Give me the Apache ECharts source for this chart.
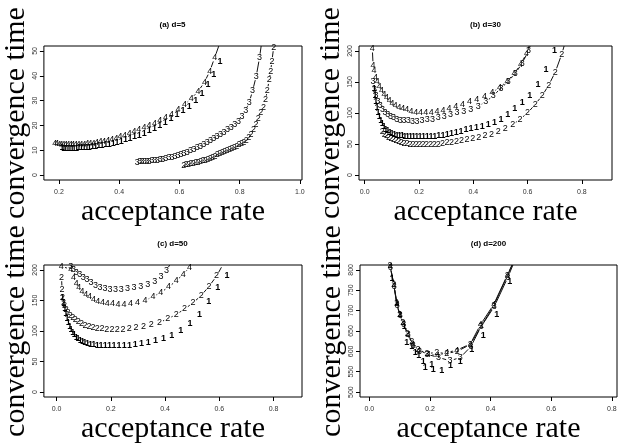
<!DOCTYPE html>
<html>
<head>
<meta charset="utf-8">
<script src="https://cdn.jsdelivr.net/npm/echarts@6/dist/echarts.min.js"></script>
<style>
  html, body { margin: 0; padding: 0; background: #fff; }
  #chart { width: 621px; height: 446px; }
</style>
</head>
<body>
<div id="chart"></div>
<script>
// Convergence time against acceptance rate for four samplers (plotted as digits 1-4)

// ---- tick values ----
const ticksA_x = [0.2, 0.4, 0.6, 0.8, 1.0];
const ticksA_y = [0, 10, 20, 30, 40, 50];
const ticksB_x = [0.0, 0.2, 0.4, 0.6, 0.8];
const ticksB_y = [0, 50, 100, 150, 200];
const ticksC_x = [0.0, 0.2, 0.4, 0.6, 0.8];
const ticksC_y = [0, 50, 100, 150, 200];
const ticksD_x = [0.0, 0.2, 0.4, 0.6, 0.8];
const ticksD_y = [500, 550, 600, 650, 700, 750, 800];

const panelTitles = ['(a) d=5', '(b) d=30', '(c) d=50', '(d) d=200'];

// ---- (a) d=5 : [acceptance rate, convergence time] ----
const a1 = [[0.210,10.9],[0.216,10.8],[0.222,10.7],[0.229,10.7],[0.236,10.7],[0.243,10.7],[0.250,10.8],[0.258,10.8],[0.266,10.9],[0.274,11.0],[0.283,11.0],[0.292,11.1],[0.301,11.2],[0.311,11.3],[0.321,11.5],[0.332,11.7],[0.343,11.9],[0.355,12.2],[0.367,12.5],[0.380,12.9],[0.393,13.3],[0.407,13.7],[0.421,14.2],[0.436,14.8],[0.451,15.4],[0.467,16.1],[0.483,16.9],[0.500,17.8],[0.517,18.8],[0.535,19.9],[0.553,21.2],[0.572,22.7],[0.592,24.3],[0.612,25.8],[0.633,27.7],[0.654,29.9],[0.675,32.8],[0.695,36.5],[0.714,40.6],[0.735,45.9],[0.757,53.5]];
const a2 = [[0.614,3.9],[0.622,4.1],[0.630,4.3],[0.638,4.5],[0.646,4.7],[0.654,4.9],[0.662,5.1],[0.670,5.4],[0.678,5.7],[0.686,6.0],[0.694,6.3],[0.702,6.7],[0.710,7.1],[0.718,7.6],[0.726,8.1],[0.734,8.6],[0.742,9.0],[0.750,9.5],[0.758,9.9],[0.766,10.4],[0.774,10.8],[0.782,11.2],[0.790,11.6],[0.798,12.1],[0.806,12.7],[0.814,13.3],[0.822,14.0],[0.830,15.0],[0.838,16.4],[0.846,18.2],[0.854,20.3],[0.862,22.9],[0.870,25.0],[0.879,27.2],[0.886,30.4],[0.892,34.2],[0.898,38.3],[0.903,41.9],[0.907,45.9],[0.913,51.5],[0.918,57.0]];
const a3 = [[0.460,5.2],[0.468,5.3],[0.476,5.3],[0.484,5.4],[0.492,5.5],[0.500,5.6],[0.509,5.7],[0.518,5.9],[0.527,6.0],[0.536,6.2],[0.545,6.4],[0.555,6.6],[0.565,6.9],[0.575,7.2],[0.585,7.5],[0.595,7.9],[0.605,8.3],[0.615,8.7],[0.626,9.2],[0.637,9.7],[0.648,10.3],[0.659,10.9],[0.670,11.6],[0.681,12.4],[0.692,13.2],[0.703,14.0],[0.714,14.8],[0.725,15.6],[0.736,16.4],[0.748,17.3],[0.760,18.2],[0.772,19.2],[0.784,20.3],[0.796,21.7],[0.808,23.6],[0.820,26.0],[0.832,29.4],[0.843,34.0],[0.855,39.8],[0.866,47.3],[0.876,56.0]];
const a4 = [[0.186,12.8],[0.193,12.6],[0.200,12.5],[0.207,12.4],[0.214,12.4],[0.222,12.3],[0.230,12.3],[0.238,12.3],[0.246,12.3],[0.255,12.3],[0.264,12.4],[0.273,12.4],[0.283,12.5],[0.293,12.6],[0.303,12.7],[0.314,12.9],[0.325,13.1],[0.337,13.4],[0.349,13.7],[0.362,14.0],[0.375,14.4],[0.389,14.9],[0.403,15.4],[0.418,15.9],[0.433,16.6],[0.449,17.4],[0.465,18.2],[0.482,19.0],[0.499,19.9],[0.517,20.9],[0.535,21.9],[0.554,23.0],[0.574,24.5],[0.595,26.6],[0.617,28.4],[0.639,30.8],[0.662,33.7],[0.683,37.4],[0.701,41.9],[0.717,47.3],[0.735,53.5],[0.752,61.0]];

// ---- (b) d=30 ----
const b1 = [[0.035,140],[0.038,128],[0.041,118],[0.045,109],[0.049,101],[0.054,94],[0.059,88],[0.065,83],[0.071,78],[0.078,74],[0.085,71],[0.093,69],[0.101,67],[0.110,65.5],[0.119,64.5],[0.128,63.5],[0.138,63],[0.148,62.5],[0.158,62],[0.169,61.5],[0.180,61.5],[0.192,61.5],[0.204,61.5],[0.217,61.5],[0.230,62],[0.244,62],[0.258,62.5],[0.273,63.5],[0.288,64.5],[0.304,65.5],[0.320,67],[0.337,68.5],[0.355,70.5],[0.373,73],[0.392,75.5],[0.412,77],[0.433,79],[0.455,81],[0.478,85],[0.502,90],[0.527,98],[0.553,107],[0.580,117],[0.608,128],[0.638,146],[0.668,170],[0.699,200]];
const b2 = [[0.065,70],[0.072,66],[0.080,63],[0.088,60.5],[0.097,58.5],[0.106,56.5],[0.115,55],[0.125,53.5],[0.135,52.5],[0.145,51.5],[0.156,50.5],[0.167,50],[0.178,49.5],[0.190,49],[0.202,48.5],[0.215,48.5],[0.228,48.5],[0.242,49],[0.256,49.5],[0.271,50],[0.287,51],[0.303,52],[0.320,53],[0.338,54.5],[0.357,56],[0.377,57.5],[0.398,59],[0.420,61],[0.443,63],[0.467,66],[0.492,70],[0.518,75],[0.545,81],[0.572,90],[0.600,100],[0.628,114],[0.654,128],[0.678,145],[0.702,166],[0.726,195],[0.748,228]];
const b3 = [[0.031,150],[0.036,138],[0.042,128],[0.049,119],[0.057,112],[0.066,106],[0.075,101],[0.085,97],[0.095,94],[0.106,92],[0.118,90],[0.131,88.5],[0.145,88],[0.160,87.5],[0.176,87],[0.193,87],[0.211,87.5],[0.230,89],[0.250,90],[0.271,92],[0.293,94.5],[0.316,97],[0.340,100],[0.365,103],[0.391,106],[0.418,111],[0.446,118],[0.474,128],[0.502,140],[0.529,151],[0.555,164],[0.580,180],[0.603,200],[0.624,226]];
const b4 = [[0.028,204],[0.031,177],[0.034,169],[0.040,158],[0.046,150],[0.054,142],[0.062,136],[0.071,130],[0.080,125],[0.090,120],[0.101,116],[0.113,112.5],[0.126,109.5],[0.140,107],[0.155,105],[0.171,103],[0.188,101.5],[0.206,101],[0.225,101],[0.245,101.5],[0.266,102.5],[0.288,104.5],[0.311,107],[0.335,110],[0.360,114],[0.386,118],[0.413,122],[0.441,127],[0.469,133],[0.497,141],[0.524,151],[0.550,163],[0.574,178],[0.596,196],[0.617,222]];

// ---- (c) d=50 ----
const c1 = [[0.022,155],[0.026,145],[0.030,136],[0.034,128],[0.038,121],[0.043,114],[0.048,108],[0.053,103],[0.059,98],[0.065,94],[0.072,90],[0.079,87],[0.087,84.5],[0.095,82.5],[0.104,81],[0.114,79.5],[0.125,78.5],[0.137,77.5],[0.150,77],[0.164,76.5],[0.179,76],[0.195,76],[0.212,76],[0.230,76],[0.249,76.5],[0.269,77],[0.290,78],[0.313,79.5],[0.338,81.5],[0.365,84],[0.394,88],[0.425,93],[0.458,101],[0.492,112],[0.527,127],[0.561,148],[0.594,171],[0.628,190]];
const c2 = [[0.018,188],[0.020,168],[0.022,155],[0.025,147],[0.029,141],[0.035,135],[0.042,130],[0.050,126],[0.059,122],[0.069,118],[0.080,115],[0.092,112],[0.105,109.5],[0.119,107.5],[0.134,106],[0.150,104.5],[0.167,103.5],[0.185,102.5],[0.204,102],[0.224,102],[0.245,102.5],[0.268,103.5],[0.293,105],[0.320,107],[0.349,110],[0.379,114],[0.410,120],[0.441,127],[0.472,136],[0.503,146],[0.533,158],[0.562,173],[0.590,190],[0.615,210]];
const c3 = [[0.052,205],[0.062,200],[0.072,196],[0.085,192],[0.098,188],[0.112,184],[0.127,179],[0.143,175],[0.160,171],[0.178,169],[0.197,167.5],[0.217,167.5],[0.238,168],[0.261,169.5],[0.285,171.5],[0.310,173.5],[0.336,176],[0.362,181],[0.385,189],[0.405,199],[0.425,214]];
const c4 = [[0.017,206],[0.052,201],[0.062,188],[0.072,178],[0.082,171],[0.094,165],[0.107,160],[0.121,156],[0.136,152],[0.152,149],[0.169,147],[0.187,145.5],[0.206,144.5],[0.226,143.5],[0.248,143.5],[0.272,144.5],[0.298,146.5],[0.326,150],[0.355,156],[0.384,163],[0.413,172],[0.441,182],[0.467,193],[0.490,204],[0.510,216]];

// ---- (d) d=200 ----
const d1 = [[0.075,780],[0.090,720],[0.100,690],[0.115,660],[0.123,621],[0.140,613],[0.151,597],[0.163,590],[0.178,576],[0.184,560],[0.206,568],[0.211,556],[0.239,552],[0.268,566],[0.300,576],[0.338,605],[0.376,638],[0.420,690],[0.463,772]];
const d2 = [[0.068,810],[0.080,765],[0.090,718],[0.100,690],[0.110,670],[0.125,645],[0.140,625],[0.160,605],[0.190,595],[0.222,597],[0.255,595],[0.290,600],[0.333,617],[0.370,663],[0.410,712],[0.455,785],[0.500,860]];
const d3 = [[0.070,805],[0.082,760],[0.092,712],[0.102,687],[0.113,666],[0.128,642],[0.145,615],[0.165,600],[0.190,593],[0.228,585],[0.266,577],[0.300,585],[0.335,612],[0.368,660],[0.412,710],[0.457,782],[0.500,860]];
const d4 = [[0.069,808],[0.081,762],[0.091,715],[0.101,688],[0.112,668],[0.127,640],[0.143,617],[0.163,602],[0.195,593],[0.225,590],[0.255,597],[0.288,603],[0.333,618],[0.366,665],[0.410,715],[0.455,787],[0.500,860]];

const panels = [
  { grid: { left: 43, top: 46, width: 259, height: 134 }, x: [0.150, 1.007], y: [-2, 52], xt: ticksA_x, yt: ticksA_y, series: [a1, a2, a3, a4] },
  { grid: { left: 359, top: 46, width: 253, height: 134 }, x: [-0.021, 0.911], y: [-8, 208], xt: ticksB_x, yt: ticksB_y, series: [b1, b2, b3, b4] },
  { grid: { left: 43, top: 265, width: 259, height: 132 }, x: [-0.047, 0.905], y: [-8, 208], xt: ticksC_x, yt: ticksC_y, series: [c1, c2, c3, c4] },
  { grid: { left: 360, top: 265, width: 257, height: 132 }, x: [-0.031, 0.817], y: [488, 812], xt: ticksD_x, yt: ticksD_y, series: [d1, d2, d3, d4] }
];

const digitFont = '"Liberation Sans", Arial, Helvetica, sans-serif';
const serifFont = '"Liberation Serif", "Times New Roman", serif';
const GAP = 4; // blank space left around each digit by the connecting lines

// consecutive point pairs -> line segments
function toSegments(points) {
  const segs = [];
  for (let i = 0; i < points.length - 1; i++) {
    segs.push([points[i][0], points[i][1], points[i + 1][0], points[i + 1][1]]);
  }
  return segs;
}

function renderSegment(params, api) {
  const p1 = api.coord([api.value(0), api.value(1)]);
  const p2 = api.coord([api.value(2), api.value(3)]);
  const dx = p2[0] - p1[0], dy = p2[1] - p1[1];
  const len = Math.hypot(dx, dy);
  if (len <= 2 * GAP + 0.5) return null;
  const ux = dx / len, uy = dy / len;
  const cs = params.coordSys;
  return {
    type: 'line',
    shape: { x1: p1[0] + ux * GAP, y1: p1[1] + uy * GAP, x2: p2[0] - ux * GAP, y2: p2[1] - uy * GAP },
    style: { stroke: '#111', lineWidth: 1 },
    clipPath: { type: 'rect', shape: { x: cs.x, y: cs.y, width: cs.width, height: cs.height } }
  };
}

const grids = [], xAxes = [], yAxes = [], titles = [], series = [];

panels.forEach((p, i) => {
  grids.push(Object.assign({ show: true, borderColor: '#000', borderWidth: 1, backgroundColor: 'transparent' }, p.grid));
  titles.push({
    text: panelTitles[i],
    left: p.grid.left + p.grid.width / 2,
    top: p.grid.top - 25,
    padding: 0,
    textAlign: 'center',
    textStyle: { fontFamily: digitFont, fontSize: 8, fontWeight: 'bold', color: '#000' }
  });
  xAxes.push({
    gridIndex: i, type: 'value', min: p.x[0], max: p.x[1],
    name: 'acceptance rate', nameLocation: 'middle', nameGap: 8,
    nameTextStyle: { fontFamily: serifFont, fontSize: 30, color: '#000' },
    axisLine: { show: false, onZero: false },
    axisTick: { show: true, inside: false, length: 4, customValues: p.xt, lineStyle: { color: '#000' } },
    axisLabel: { show: true, customValues: p.xt, margin: 9, fontFamily: digitFont, fontSize: 7, color: '#333',
                 formatter: v => v.toFixed(1) },
    splitLine: { show: false }
  });
  yAxes.push({
    gridIndex: i, type: 'value', min: p.y[0], max: p.y[1],
    name: 'convergence time', nameLocation: 'middle', nameGap: 9, nameRotate: 90,
    nameTextStyle: { fontFamily: serifFont, fontSize: 30, color: '#000' },
    axisLine: { show: false, onZero: false },
    axisTick: { show: true, inside: false, length: 4, customValues: p.yt, lineStyle: { color: '#000' } },
    axisLabel: { show: true, customValues: p.yt, margin: 5, rotate: 90, fontFamily: digitFont, fontSize: 7, color: '#333',
                 formatter: v => String(v) },
    splitLine: { show: false }
  });

  p.series.forEach((pts, k) => {
    const digit = String(k + 1);
    // connecting lines (samplers 2-4)
    if (k > 0) {
      series.push({
        type: 'custom', xAxisIndex: i, yAxisIndex: i, silent: true,
        renderItem: renderSegment, encode: { x: [0, 2], y: [1, 3] },
        data: toSegments(pts), z: 2
      });
    }
    // the digits themselves
    series.push({
      type: 'scatter', xAxisIndex: i, yAxisIndex: i, silent: true, clip: true,
      symbol: 'circle', symbolSize: 1, itemStyle: { color: 'rgba(0,0,0,0)' },
      label: {
        show: true, position: 'inside', formatter: digit,
        fontFamily: digitFont, fontSize: 9, color: '#000', opacity: 1,
        fontWeight: k === 0 ? 'bold' : 'normal'
      },
      labelLayout: { hideOverlap: false },
      data: pts, z: 3
    });
  });
});

const chart = echarts.init(document.getElementById('chart'), null, { renderer: 'canvas' });
chart.setOption({
  animation: false,
  backgroundColor: '#fff',
  title: titles,
  grid: grids,
  xAxis: xAxes,
  yAxis: yAxes,
  series: series
});
</script>
</body>
</html>
